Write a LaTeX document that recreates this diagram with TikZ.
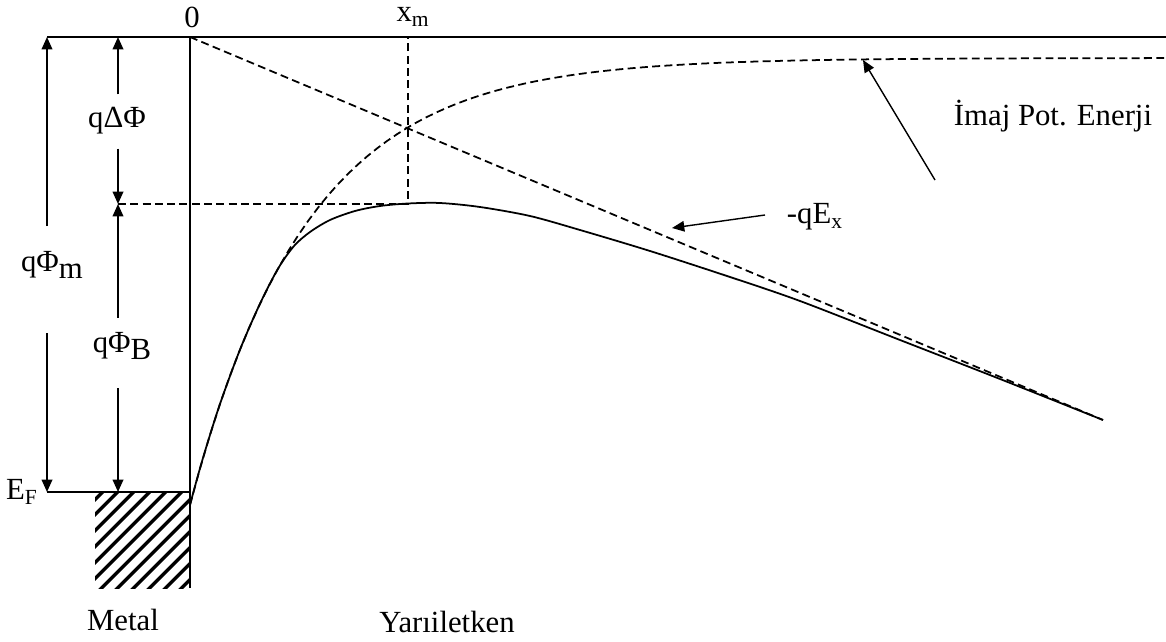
\documentclass[tikz,border=0pt]{standalone}
\usepackage{fontspec}
\setmainfont{Liberation Serif}
\usetikzlibrary{arrows.meta,patterns.meta}
\begin{document}
\begin{tikzpicture}[x=0.02cm,y=-0.02cm,line width=1pt,
    font=\fontsize{17.5}{21}\selectfont,
    >={Triangle[length=7pt,width=6pt]},
    lbl/.style={fill=white,inner xsep=3pt,inner ysep=0pt,anchor=base},
    dsh/.style={dash pattern=on 4.5pt off 2.5pt}]
  \useasboundingbox (0,0) rectangle (1166,642);
  % levels
  \coordinate (vacL) at (47,37);
  \coordinate (vacM) at (118,37);
  \coordinate (o) at (190,37);
  \coordinate (vacR) at (1166,37);
  \coordinate (efL) at (47,492);
  \coordinate (efM) at (118,492);
  \coordinate (efR) at (190,492);
  \coordinate (mbot) at (190,588);
  \coordinate (pkL) at (118,204);
  \coordinate (pk) at (408,204);
  \coordinate (xm) at (408,37);
  \coordinate (fEnd) at (1103,420);
  \draw[line width=1.4pt] (vacL) -- (vacR);
  \draw (o) -- (mbot);
  \fill[pattern={Lines[angle=45,distance=6.4pt,line width=2pt]}] (95,492) rectangle (mbot);
  \draw (efL) -- (efR);
  \draw[dsh] (pkL) -- (pk) -- (xm);
  \draw[dsh] (o) -- (fEnd);
  % image potential and barrier
  \draw[dsh] plot[domain=0:976,samples=100] ({190+\x},{58+447*exp(-\x/117)});
  \draw plot[smooth] coordinates {(190,505) (196,482.6) (205,451.2) (220,403.9)
    (240,349.6) (260,303.7) (278,268.7) (294,246) (310,232) (330,220) (355,211)
    (380,206) (408,203.5) (440,203) (480,207) (530,216) (580,230) (650,251)
    (730,277) (800,301) (900,340) (1000,379) (1103,420)};
  % heights
  \node[lbl,text height=25pt,text depth=35pt] (phim) at (52,271) {qΦ\raisebox{-4pt}{m}};
  \draw[->] (vacL |- phim.north) -- (vacL);
  \draw[->] (vacL |- phim.south) -- (efL);
  \node[lbl,text height=18.7pt,text depth=11.3pt] (dphi) at (117,128) {qΔΦ};
  \draw[->] (vacM |- dphi.north) -- (vacM);
  \draw[->] (vacM |- dphi.south) -- (pkL);
  \node[lbl,text height=19pt,text depth=20pt] (phib) at (122,352) {qΦ\raisebox{-4pt}{B}};
  \draw[->] (vacM |- phib.north) -- (pkL);
  \draw[->] (vacM |- phib.south) -- (efM);
  % texts
  \node (zero) at (192,17) {0};
  \node[anchor=base] (xmLbl) at (413,22) {x\textsubscript{m}};
  \node (efLbl) at (22,492) {E\textsubscript{F}};
  \node (metal) at (123,620) {Metal};
  \node (semi) at (447,622) {Yarıiletken};
  \node (imgLbl) at (1053,116) {İmaj Pot. Enerji};
  \coordinate (imgTip) at (863,60);
  \coordinate (imgTail) at (935,180);
  \draw[->,line width=0.8pt] (imgTail) -- (imgTip);
  \node (fLbl) at (815,217) {-qE\textsubscript{x}};
  \coordinate (fTip) at (672,228);
  \coordinate (fTail) at (765,215);
  \draw[->,line width=0.8pt] (fTail) -- (fTip);
\end{tikzpicture}
\end{document}
